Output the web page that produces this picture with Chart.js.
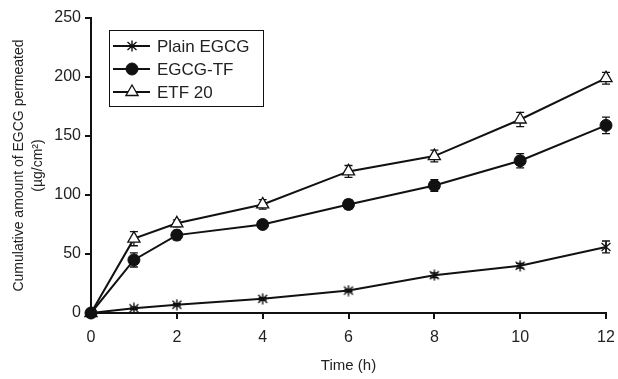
<!DOCTYPE html>
<html>
<head>
<meta charset="utf-8">
<script src="https://cdn.jsdelivr.net/npm/chart.js@4/dist/chart.umd.min.js"></script>
<style>
  html, body { margin: 0; padding: 0; background: #fff; }
  #wrap { width: 618px; height: 379px; }
</style>
</head>
<body>
<div id="wrap"><canvas id="chart"></canvas></div>
<script>
Chart.defaults.font.family = '"Liberation Sans", Arial, sans-serif';
Chart.defaults.font.size = 15;
Chart.defaults.color = '#222';

// Données
const times = [0, 1, 2, 4, 6, 8, 10, 12];
const plainEGCG = [0, 4, 7, 12, 19, 32, 40, 56];
const plainErr = [1, 1, 1, 1, 1, 2, 2, 5];
const egcgTF = [0, 45, 66, 75, 92, 108, 129, 159];
const egcgTFErr = [1, 6, 4, 2, 4, 5, 6, 7];
const etf20 = [0, 63, 76, 92, 120, 133, 164, 199];
const etf20Err = [1, 6, 3, 4, 5, 5, 6, 5];
const yTicks = [0, 50, 100, 150, 200, 250];
const xTicks = [0, 2, 4, 6, 8, 10, 12];

const toPoints = (vals) => vals.map((v, i) => ({ x: times[i], y: v }));

// Symbole astérisque à 6 branches (X + trait vertical)
function makeAsterisk() {
  const c = document.createElement('canvas');
  c.width = 12; c.height = 12;
  const g = c.getContext('2d');
  g.strokeStyle = '#111';
  g.lineWidth = 1.4;
  g.beginPath();
  g.moveTo(6, 0.5); g.lineTo(6, 11.5);
  g.moveTo(1.5, 2); g.lineTo(10.5, 10);
  g.moveTo(10.5, 2); g.lineTo(1.5, 10);
  g.stroke();
  return c;
}
const asterisk = makeAsterisk();

/* Barres d'erreur dessinées avec les échelles du graphique */
const errorBars = {
  id: 'errorBars',
  beforeDatasetsDraw(chart) {
    const { ctx, scales: { x, y } } = chart;
    ctx.save();
    ctx.strokeStyle = '#111';
    ctx.lineWidth = 1.3;
    chart.data.datasets.forEach((ds) => {
      ds.errors.forEach((e, i) => {
        const px = x.getPixelForValue(times[i]);
        const top = y.getPixelForValue(ds.data[i].y + e);
        const bot = y.getPixelForValue(ds.data[i].y - e);
        ctx.beginPath();
        ctx.moveTo(px, top); ctx.lineTo(px, bot);
        ctx.moveTo(px - 4, top); ctx.lineTo(px + 4, top);
        ctx.moveTo(px - 4, bot); ctx.lineTo(px + 4, bot);
        ctx.stroke();
      });
    });
    ctx.restore();
  },
};

/* Légende encadrée avec trait + symbole */
const boxLegend = {
  id: 'boxLegend',
  afterDraw(chart) {
    const { ctx, chartArea } = chart;
    const bx = chartArea.left + 18, by = chartArea.top + 12;
    ctx.save();
    ctx.strokeStyle = '#111';
    ctx.lineWidth = 1;
    ctx.strokeRect(bx + 0.5, by + 0.5, 154, 76);
    chart.data.datasets.forEach((ds, i) => {
      const cy = by + 16 + i * 23;
      ctx.strokeStyle = '#111';
      ctx.lineWidth = 2;
      ctx.beginPath();
      ctx.moveTo(bx + 4, cy); ctx.lineTo(bx + 41, cy);
      ctx.stroke();
      ctx.fillStyle = ds.pointBackgroundColor;
      ctx.strokeStyle = '#111';
      ctx.lineWidth = ds.pointBorderWidth;
      Chart.helpers.drawPoint(ctx, {
        pointStyle: ds.pointStyle, radius: ds.pointRadius, borderWidth: ds.pointBorderWidth, rotation: 0,
      }, bx + 23, cy);
      ctx.fillStyle = '#222';
      ctx.font = '17px "Liberation Sans", Arial, sans-serif';
      ctx.textBaseline = 'middle';
      ctx.fillText(ds.label, bx + 48, cy + 1);
    });
    ctx.restore();
  },
};

const axisStyle = {
  border: { color: '#111', width: 2 },
  grid: { drawOnChartArea: false, drawTicks: true, tickLength: 6, color: '#111', lineWidth: 2 },
};

new Chart(document.getElementById('chart'), {
  type: 'line',
  data: {
    datasets: [
      {
        label: 'Plain EGCG', data: toPoints(plainEGCG), errors: plainErr, clip: false,
        borderColor: '#111', borderWidth: 2, pointStyle: asterisk, pointRadius: 6,
        pointBorderColor: '#111', pointBackgroundColor: '#111', pointBorderWidth: 1.5,
      },
      {
        label: 'EGCG-TF', data: toPoints(egcgTF), errors: egcgTFErr, clip: false,
        borderColor: '#111', borderWidth: 2, pointStyle: 'circle', pointRadius: 6,
        pointBorderColor: '#111', pointBackgroundColor: '#111', pointBorderWidth: 1,
      },
      {
        label: 'ETF 20', data: toPoints(etf20), errors: etf20Err, clip: false,
        borderColor: '#111', borderWidth: 2, pointStyle: 'triangle', pointRadius: 7,
        pointBorderColor: '#111', pointBackgroundColor: '#fff', pointBorderWidth: 1.3,
      },
    ],
  },
  options: {
    responsive: true,
    maintainAspectRatio: false,
    animation: false,
    layout: { padding: { top: 18, right: 12, bottom: 0, left: 6 } },
    plugins: { legend: { display: false }, tooltip: { enabled: false } },
    scales: {
      x: {
        type: 'linear', min: 0, max: 12,
        ...axisStyle,
        afterBuildTicks: (s) => { s.ticks = xTicks.map((v) => ({ value: v })); },
        ticks: { padding: 9, color: '#222', font: { size: 16 } },
        title: { display: true, text: 'Time (h)', color: '#222', font: { size: 15 }, padding: { top: 14, bottom: 4 } },
        afterFit: (s) => { s.height = 66; s.paddingRight = 0; s.paddingLeft = 0; },
      },
      y: {
        min: 0, max: 250,
        ...axisStyle,
        afterBuildTicks: (s) => { s.ticks = yTicks.map((v) => ({ value: v })); },
        ticks: { padding: 4, color: '#222', font: { size: 16 } },
        title: {
          display: true,
          text: ['Cumulative amount of EGCG permeated', '(\u00b5g/cm\u00b2)'],
          color: '#222', font: { size: 14, lineHeight: 1.35 }, padding: { bottom: 4 },
        },
        afterFit: (s) => { s.width = 85; },
      },
    },
  },
  plugins: [errorBars, boxLegend],
});
</script>
</body>
</html>
